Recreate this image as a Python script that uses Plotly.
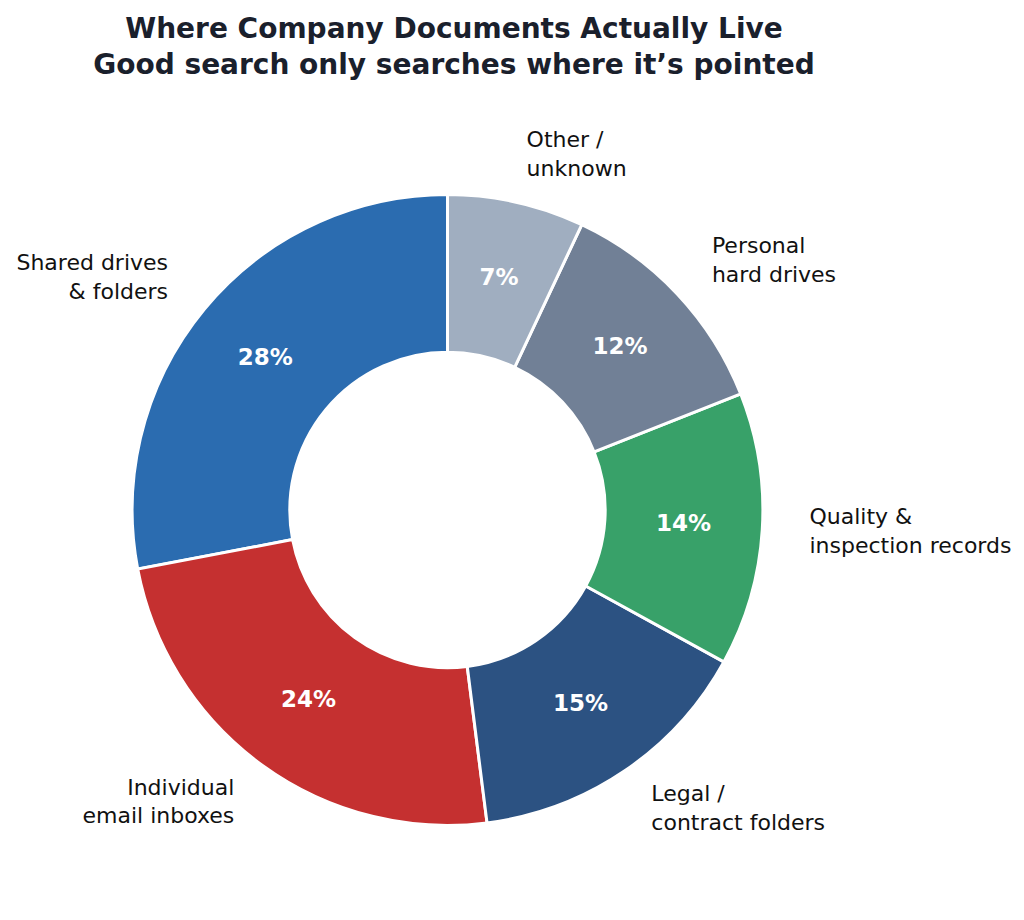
import plotly.graph_objects as go

# 保存場所の内訳 (%)
labels = [
    'Shared drives<br>& folders',
    'Individual<br>email inboxes',
    'Legal /<br>contract folders',
    'Quality &<br>inspection records',
    'Personal<br>hard drives',
    'Other /<br>unknown',
]
values = [28, 24, 15, 14, 12, 7]
colors = ['#2B6CB0', '#C53030', '#2C5282', '#38A169', '#718096', '#A0AEC0']

# 角度 (上から反時計回り, 度)
total = sum(values)
mids = []
widths = []
cum = 0
for v in values:
    mids.append((cum + v / 2) / total * 360)
    widths.append(v / total * 360)
    cum += v

sides = ['middle left' if m < 180 else 'middle right' for m in mids]

fig = go.Figure()

# ドーナツ本体
fig.add_trace(go.Barpolar(
    theta=mids, width=widths, r=[0.5] * len(values), base=[0.5] * len(values),
    marker=dict(color=colors, line=dict(color='white', width=3)),
    hoverinfo='skip',
))

# パーセント表示
fig.add_trace(go.Scatterpolar(
    theta=mids, r=[0.75] * len(values), mode='text',
    text=[f'{v}%' for v in values],
    textfont=dict(family='DejaVu Sans', size=23, color='white', weight='bold'),
    cliponaxis=False, hoverinfo='skip',
))

# ラベル
fig.add_trace(go.Scatterpolar(
    theta=mids, r=[1.15] * len(values), mode='text',
    text=labels, textposition=sides,
    textfont=dict(family='DejaVu Sans', size=22, color='#111111'),
    cliponaxis=False, hoverinfo='skip',
))

fig.update_layout(
    width=1024, height=920,
    margin=dict(l=0, r=0, t=0, b=0),
    paper_bgcolor='white',
    showlegend=False,
    title=dict(
        text='Where Company Documents Actually Live<br>Good search only searches where it’s pointed',
        x=446 / 1024, xanchor='center', y=1 - 30 / 920, yanchor='top',
        font=dict(family='DejaVu Sans', size=28, color='#1A202C', weight='bold'),
    ),
    polar=dict(
        domain=dict(x=[29.5 / 1024, 849.5 / 1024], y=[8 / 920, 828 / 920]),
        bgcolor='white',
        radialaxis=dict(visible=False, range=[0, 1.3]),
        angularaxis=dict(visible=False, rotation=90, direction='counterclockwise'),
    ),
)

fig.write_html('out.html')
